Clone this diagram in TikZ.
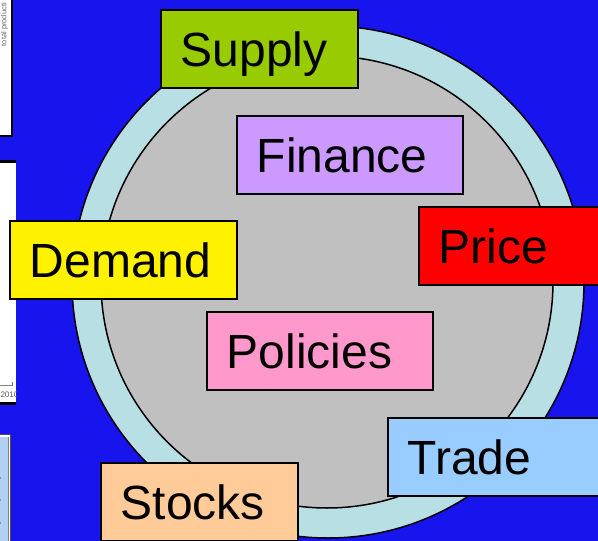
\documentclass[tikz,border=0pt]{standalone}
\usepackage{fontspec}
\setmainfont{Liberation Sans}
\definecolor{slideblue}{RGB}{24,20,238}
\definecolor{ringcyan}{RGB}{184,224,228}
\definecolor{coregray}{RGB}{192,192,192}
\definecolor{supplygreen}{RGB}{153,204,0}
\definecolor{financelilac}{RGB}{204,153,255}
\definecolor{policypink}{RGB}{255,153,204}
\definecolor{tradeblue}{RGB}{153,204,255}
\definecolor{stockspeach}{RGB}{255,204,153}
\definecolor{panelblue}{RGB}{178,208,242}

\begin{document}
\begin{tikzpicture}[x=1pt, y=-1pt,
  factor/.style={draw=black, line width=1.5pt, anchor=north west,
    inner xsep=20pt, inner ysep=0pt, minimum height=78pt,
    text height=34.5pt, text depth=0pt, align=left,
    font=\fontsize{48}{48}\selectfont}]
\useasboundingbox (0,0) rectangle (598,541);
\clip (0,0) rectangle (598,541);

% Background
\fill[slideblue] (0,0) rectangle (598,541);

% Cut-off chart panels on the left
\fill[white] (-2,-2) rectangle (11,136);
\draw[line width=2.5pt] (-2,136) -- (12,136) -- (12,-2);
\node[gray!80!black, rotate=90, anchor=east, inner sep=1pt, font=\fontsize{7.5}{7.5}\selectfont] at (4.5,2) {total producti};
\begin{scope}
  \clip (-2,160) rectangle (16,405);
  \fill[white] (-2,160) rectangle (16,405);
  \draw[line width=3pt] (-2,161.5) -- (16,161.5);
  \draw[line width=3pt] (-2,403.5) -- (16,403.5);
  \draw[gray, line width=0.8pt] (-2,385) -- (13,385) (12,385) -- (12,382);
  \node[gray!70!black, anchor=west, font=\fontsize{8}{8}\selectfont] at (-3,395) {2010};
\end{scope}
\fill[white] (-2,434) rectangle (11,545);
\draw[gray!60!black, line width=1.2pt] (-2,434.5) -- (10.5,434.5) -- (10.5,545);
\fill[panelblue] (-2,437) rectangle (8,545);
\draw[gray, line width=1pt] (8.5,437) -- (8.5,545);
\foreach \yy in {478,500,523}
  \fill[gray] (0,\yy) circle (1.2pt);

% Ring and core
\draw[fill=ringcyan, line width=1.5pt] (328,282) circle (256pt);
\draw[fill=coregray, line width=1.5pt] (327,282) circle (226pt);

% Factors
\node[factor, fill=supplygreen, text width=157pt] (supply) at (160,9) {Supply};
\node[factor, fill=financelilac, text width=186pt] (finance) at (236,115) {Finance};
\node[factor, fill=yellow, text width=187pt] (demand) at (9,220) {Demand};
\node[factor, fill=red, text width=186pt] (price) at (418,206) {Price};
\node[factor, fill=policypink, text width=186pt] (policies) at (206,311) {Policies};
\node[factor, fill=tradeblue, text width=186pt] (trade) at (387,417) {Trade};
\node[factor, fill=stockspeach, text width=157pt] (stocks) at (100,462) {Stocks};

\end{tikzpicture}
\end{document}
